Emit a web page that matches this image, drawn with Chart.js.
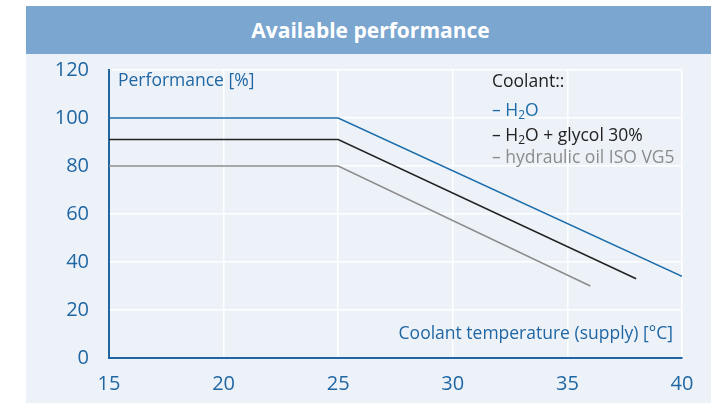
<!DOCTYPE html>
<html>
<head>
<meta charset="utf-8">
<script src="https://cdn.jsdelivr.net/npm/chart.js@4.4.1/dist/chart.umd.min.js"></script>
<style>
  html, body { margin: 0; padding: 0; background: #fff; }
  body { width: 721px; height: 403px; overflow: hidden; position: relative; font-family: "Open Sans", sans-serif; }
  .panel { position: absolute; left: 26px; top: 6px; width: 685px; height: 397px; background: #edf2f9; }
  .banner { position: absolute; left: 26px; top: 6px; width: 685px; height: 48px; background: #7ba6cf;
            color: #fff; font-weight: bold; font-size: 21px; line-height: 48px; text-align: center; }
  canvas { position: absolute; left: 0; top: 0; }
  .lbl { position: absolute; font-size: 17.5px; line-height: 20px; white-space: nowrap; color: #1f66a3; }
  sub { font-size: 12px; line-height: 0; vertical-align: -3px; }
  .legend { position: absolute; left: 492px; top: 70px; font-size: 17.5px; white-space: nowrap; }
  .legend div { position: absolute; left: 0; line-height: 20px; }
</style>
</head>
<body>
<div class="panel"></div>
<div class="banner"><span style="position:relative;left:2px">Available performance</span></div>
<canvas id="perf" width="721" height="403"></canvas>
<div class="lbl" style="left:118px; top:69px;">Performance [%]</div>
<div class="lbl" style="right:48px; top:322px;">Coolant temperature (supply) [°C]</div>
<div class="legend" id="legend"></div>

<script>
// data
const xTicks = [15, 20, 25, 30, 35, 40];
const yTicks = [0, 20, 40, 60, 80, 100, 120];

const h2oTemp = [15, 25, 40];
const h2oPerf = [100, 100, 34];

const glycolTemp = [15, 25, 38];
const glycolPerf = [91, 91, 33];

const oilTemp = [15, 25, 36];
const oilPerf = [80, 80, 30];

const seriesNames = ['H<sub>2</sub>O', 'H<sub>2</sub>O + glycol 30%', 'hydraulic oil ISO VG5'];
const seriesColors = ['#1b6dab', '#222222', '#8c8c8c'];

const toPoints = (xs, ys) => xs.map((x, i) => ({ x: x, y: ys[i] }));

// legend as plain text lines
const legend = document.getElementById('legend');
const legendTops = [0, 29, 54, 76];
legend.innerHTML = '<div style="top:' + legendTops[0] + 'px;color:#222">Coolant::</div>' +
    seriesNames.map((n, i) =>
        '<div style="top:' + legendTops[i + 1] + 'px;color:' + seriesColors[i] + '">– ' + n + '</div>'
    ).join('');

const blue = '#1f66a3';

const chart = new Chart(document.getElementById('perf').getContext('2d'), {
    type: 'line',
    data: {
        datasets: [
            { label: 'H2O', data: toPoints(h2oTemp, h2oPerf), borderColor: seriesColors[0], borderWidth: 1.5 },
            { label: 'H2O + glycol 30%', data: toPoints(glycolTemp, glycolPerf), borderColor: seriesColors[1], borderWidth: 1.5 },
            { label: 'hydraulic oil ISO VG5', data: toPoints(oilTemp, oilPerf), borderColor: seriesColors[2], borderWidth: 1.5 }
        ]
    },
    options: {
        responsive: false,
        animation: false,
        events: [],
        elements: { point: { radius: 0 }, line: { tension: 0 } },
        layout: { padding: { left: 0, right: 39, top: 70, bottom: 0 } },
        plugins: { legend: { display: false }, tooltip: { enabled: false } },
        scales: {
            x: {
                type: 'linear',
                min: 15,
                max: 40,
                afterBuildTicks: (s) => { s.ticks = xTicks.map(v => ({ value: v })); },
                afterFit: (s) => { s.height = 45; },
                grid: { color: '#ffffff', lineWidth: 1.5, drawTicks: false },
                border: { color: blue, width: 2 },
                ticks: { color: blue, padding: 14, font: { family: 'Open Sans', size: 20 } }
            },
            y: {
                min: 0,
                max: 120,
                afterBuildTicks: (s) => { s.ticks = yTicks.map(v => ({ value: v })); },
                afterFit: (s) => { s.width = 109; },
                grid: { color: '#ffffff', lineWidth: 1.5, drawTicks: false },
                border: { color: blue, width: 2 },
                ticks: { color: blue, padding: 20, font: { family: 'Open Sans', size: 20 } }
            }
        }
    }
});
</script>
</body>
</html>
